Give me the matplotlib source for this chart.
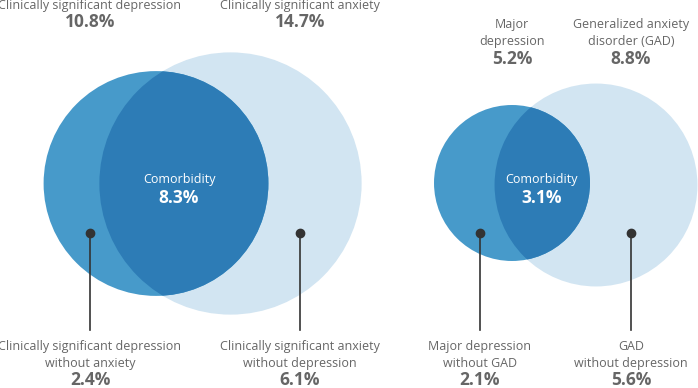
import numpy as np
import matplotlib.pyplot as plt
from matplotlib.patches import Circle

plt.rcParams['font.family'] = ['Open Sans', 'DejaVu Sans']

# data
dep_labels = ["Clinically significant depression", "Major\ndepression"]
anx_labels = ["Clinically significant anxiety", "Generalized anxiety\ndisorder (GAD)"]
dep_values = [10.8, 5.2]
anx_values = [14.7, 8.8]
comorbid_values = [8.3, 3.1]
dep_only_labels = ["Clinically significant depression\nwithout anxiety", "Major depression\nwithout GAD"]
anx_only_labels = ["Clinically significant anxiety\nwithout depression", "GAD\nwithout depression"]
dep_only_values = [2.4, 2.1]
anx_only_values = [6.1, 5.6]

# layout (pixels)
scale = 34.2
dep_centers = [(156, 183.5), (512, 183)]
anx_centers = [(230.5, 183.5), (596, 185)]
comorbid_x = [179, 542]
top_text_x = [(90, 300), (512, 631)]
top_text_y = [(5, 22), (33, 59)]
bottom_x = [(90, 300), (480, 631)]
dot_y = 233

c_light = "#d2e5f2"
c_mid = "#479aca"
c_dark = "#2d7cb6"
c_text = "#666666"

fig = plt.figure(figsize=(6.98, 3.88), dpi=100)
ax = fig.add_axes([0, 0, 1, 1])
ax.set_xlim(0, 698)
ax.set_ylim(388, 0)
ax.set_aspect('equal')
ax.axis('off')

for i in range(2):
    r_dep = scale * np.sqrt(dep_values[i])
    r_anx = scale * np.sqrt(anx_values[i])
    anx = Circle(anx_centers[i], r_anx, color=c_light, lw=0, zorder=1)
    dep = Circle(dep_centers[i], r_dep, color=c_mid, lw=0, zorder=2)
    ax.add_patch(anx)
    ax.add_patch(dep)
    # overlap: depression circle clipped by the anxiety circle
    clip = Circle(anx_centers[i], r_anx, transform=ax.transData, fill=False, lw=0)
    ov = Circle(dep_centers[i], r_dep, color=c_dark, lw=0, zorder=3)
    ax.add_patch(ov)
    ov.set_clip_path(clip)

    # centre text
    mx = comorbid_x[i]
    ax.text(mx, 179, "Comorbidity", color="white", fontsize=9, ha='center', va='center', zorder=5)
    ax.text(mx, 198, f"{comorbid_values[i]}%", color="white", fontsize=12.5, fontweight='bold',
            ha='center', va='center', zorder=5)

    # top labels
    ly, vy = top_text_y[i]
    ax.text(top_text_x[i][0], ly, dep_labels[i], color=c_text, fontsize=9, ha='center', va='center',
            linespacing=1.35)
    ax.text(top_text_x[i][0], vy, f"{dep_values[i]}%", color=c_text, fontsize=12.5, fontweight='bold',
            ha='center', va='center')
    ax.text(top_text_x[i][1], ly, anx_labels[i], color=c_text, fontsize=9, ha='center', va='center',
            linespacing=1.35)
    ax.text(top_text_x[i][1], vy, f"{anx_values[i]}%", color=c_text, fontsize=12.5, fontweight='bold',
            ha='center', va='center')

    # pointers and bottom labels
    for x, lab, val in [(bottom_x[i][0], dep_only_labels[i], dep_only_values[i]),
                        (bottom_x[i][1], anx_only_labels[i], anx_only_values[i])]:
        ax.plot([x, x], [dot_y, 330], color="#333333", lw=1.2, zorder=6)
        ax.plot(x, dot_y, 'o', color="#333333", ms=6, zorder=7)
        ax.text(x, 355, lab, color=c_text, fontsize=9, ha='center', va='center', linespacing=1.35)
        ax.text(x, 380, f"{val}%", color=c_text, fontsize=12.5, fontweight='bold', ha='center', va='center')

fig.savefig("out.png", dpi=100)
